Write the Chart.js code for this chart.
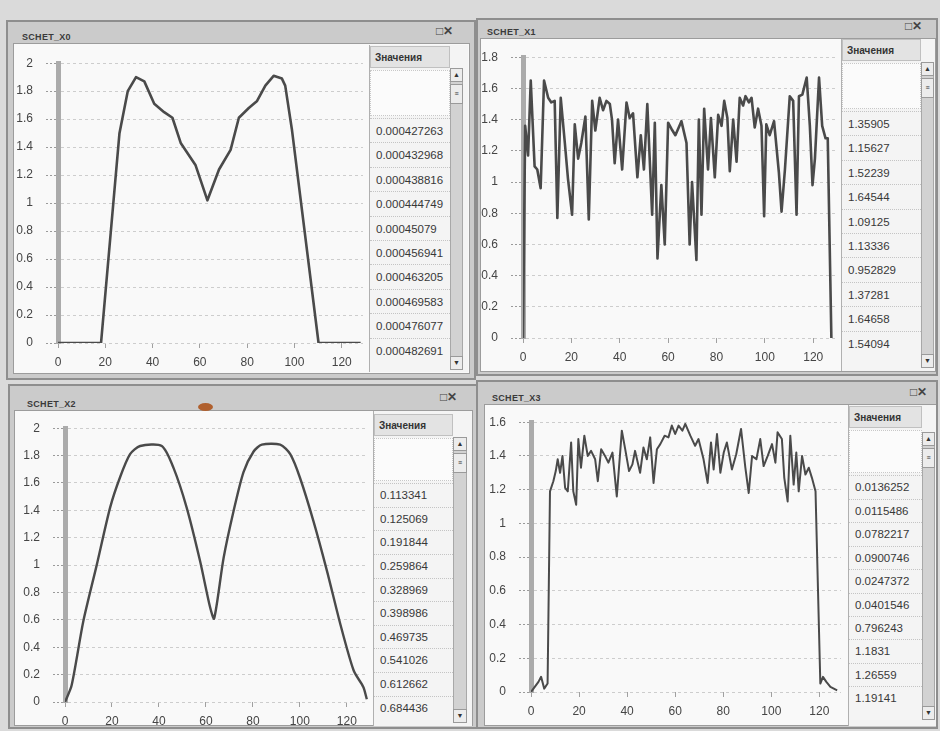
<!DOCTYPE html>
<html><head><meta charset="utf-8">
<script src="https://cdn.jsdelivr.net/npm/chart.js@4.4.1/dist/chart.umd.min.js"></script>
<style>
html,body{margin:0;padding:0;}
body{width:940px;height:731px;background:#dadada;position:relative;overflow:hidden;font-family:"Liberation Sans",Arial,sans-serif;}
.win{position:absolute;background:#cbcbcb;border:2px solid #8e8e8e;box-sizing:border-box;}
.title{position:absolute;font-size:9px;font-weight:bold;color:#3a3a3a;letter-spacing:0.3px;}
.icons{position:absolute;font-size:12px;color:#444;font-weight:bold;}
.content{position:absolute;background:#f9f9f9;border:1px solid #9c9c9c;box-sizing:border-box;}
.tbl{position:absolute;background:#f4f4f4;border-left:1px solid #b0b0b0;box-sizing:border-box;}
.hdr{position:absolute;height:22px;line-height:22px;font-size:10px;font-weight:bold;color:#333;padding-left:4px;background:#e3e3e3;border:1px solid #c0c0c0;box-sizing:border-box;}
.blank{position:absolute;background:#fbfbfb;border:1px dotted #c8c8c8;box-sizing:border-box;}
.row{position:absolute;font-size:11.5px;color:#383838;padding-left:6px;border-top:1px dotted #c4c4c4;box-sizing:border-box;white-space:nowrap;}
.sb{position:absolute;background:#d2d2d2;border:1px solid #a8a8a8;box-sizing:border-box;}
.sbb{position:absolute;left:0;right:0;height:14px;background:#ececec;border:1px solid #9a9a9a;box-sizing:border-box;font-size:7px;line-height:12px;text-align:center;color:#333;}
canvas{position:absolute;}
.blob{position:absolute;left:198px;top:403px;width:15px;height:8px;border-radius:50%;background:#b0602e;}
</style></head><body>
<script>
// ---------- DATA ----------
const xTickLabels = [0, 20, 40, 60, 80, 100, 120];

const x0Pos = [0, 18.2, 26, 29.5, 33, 36.5, 40.7, 44.9, 48.4, 51.9, 58.2, 63.2, 68.1, 73, 76.5, 80.7, 84.2, 87.7, 91.2, 94.7, 96.1, 98.9, 110.2, 128];
const x0Val = [0, 0, 1.50, 1.80, 1.90, 1.87, 1.71, 1.65, 1.61, 1.43, 1.27, 1.02, 1.24, 1.38, 1.61, 1.68, 1.73, 1.84, 1.91, 1.89, 1.84, 1.53, 0, 0];

const x1Pos = [0, 0.9, 2.1, 3.2, 4.8, 5.9, 7.3, 8.7, 10.4, 11.7, 13.1, 14.2, 15.6, 17.3, 18.6, 20.3, 21.4, 22.8, 24.1, 25.8, 27.2, 28.6, 29.9, 31.7, 33.1, 34.5, 35.9, 36.8, 37.9, 39.3, 41.0, 42.8, 44.1, 45.5, 47.3, 48.7, 50.0, 51.4, 53.4, 54.5, 55.6, 57.2, 58.6, 60.0, 61.4, 63.0, 65.5, 67.6, 68.9, 69.9, 71.7, 72.7, 73.8, 74.9, 76.5, 77.7, 79.3, 80.7, 82.1, 83.2, 84.5, 85.5, 86.9, 88.3, 89.6, 91.0, 92.0, 93.4, 94.5, 95.8, 97.2, 98.6, 99.7, 100.6, 102.0, 103.8, 105.8, 106.9, 108.3, 110.3, 111.7, 113.1, 114.1, 115.5, 117.3, 118.6, 119.7, 120.7, 122.4, 123.7, 125.1, 126.0, 127.5];
const x1Val = [0, 1.36, 1.17, 1.65, 1.10, 1.08, 0.96, 1.65, 1.54, 1.51, 1.52, 0.77, 1.54, 1.25, 1.02, 0.79, 1.37, 1.15, 1.25, 1.42, 0.76, 1.52, 1.33, 1.54, 1.46, 1.52, 1.50, 1.40, 1.12, 1.40, 1.08, 1.51, 1.41, 1.44, 1.03, 1.30, 1.08, 1.50, 0.79, 1.38, 0.51, 0.98, 0.60, 1.38, 1.34, 1.30, 1.39, 1.25, 0.60, 1.00, 0.50, 1.40, 0.79, 1.47, 1.08, 1.41, 1.03, 1.43, 1.36, 1.52, 1.41, 1.07, 1.40, 1.13, 1.54, 1.49, 1.55, 1.51, 1.54, 1.35, 1.47, 1.36, 0.78, 1.37, 1.30, 1.39, 1.06, 0.81, 1.08, 1.55, 1.52, 0.79, 1.55, 1.56, 1.67, 1.36, 0.98, 1.15, 1.67, 1.36, 1.28, 1.28, 0];

const x2Pos = [0, 2.8, 7.8, 13.5, 19.2, 23.4, 27.7, 32, 41.2, 46.2, 51.8, 57.5, 61.8, 63.5, 67.5, 71.7, 76, 80.3, 83.8, 91.6, 95.9, 100, 105.8, 111.5, 117.2, 122.9, 127, 128.5];
const x2Val = [0, 0.12, 0.59, 1.00, 1.42, 1.64, 1.81, 1.87, 1.87, 1.71, 1.42, 1.03, 0.69, 0.61, 1.05, 1.39, 1.68, 1.83, 1.88, 1.88, 1.81, 1.64, 1.32, 0.96, 0.57, 0.23, 0.11, 0.02];

const x3Pos = [0, 3.1, 4.2, 5.5, 6.9, 7.9, 9.3, 10.3, 11.1, 12.1, 13.1, 14.2, 15.3, 16.7, 17.6, 18.8, 19.7, 20.8, 22.2, 23.6, 25.0, 26.7, 27.8, 29.2, 30.8, 32.2, 33.9, 35.7, 37.8, 39.2, 40.8, 42.2, 43.3, 45.4, 46.8, 48.2, 49.6, 51.0, 52.4, 53.8, 55.6, 57.2, 58.6, 60.0, 61.4, 63.0, 64.2, 66.3, 68.3, 69.7, 71.8, 73.5, 74.9, 76.0, 77.4, 78.8, 80.2, 81.5, 83.6, 85.4, 87.4, 89.2, 90.6, 92.0, 93.8, 95.4, 96.8, 98.5, 100.3, 101.7, 102.6, 104.4, 105.4, 106.8, 107.9, 109.3, 110.4, 111.4, 112.8, 114.2, 115.6, 116.9, 118.4, 120.4, 121.5, 122.9, 124.6, 127.4];
const x3Val = [0, 0.06, 0.09, 0.02, 0.05, 1.19, 1.25, 1.31, 1.38, 1.30, 1.40, 1.21, 1.19, 1.48, 1.19, 1.11, 1.50, 1.33, 1.52, 1.40, 1.43, 1.38, 1.25, 1.44, 1.40, 1.36, 1.42, 1.16, 1.55, 1.44, 1.31, 1.35, 1.43, 1.30, 1.45, 1.38, 1.51, 1.24, 1.44, 1.47, 1.52, 1.51, 1.58, 1.53, 1.58, 1.55, 1.59, 1.52, 1.46, 1.50, 1.38, 1.24, 1.48, 1.32, 1.53, 1.30, 1.42, 1.48, 1.32, 1.41, 1.56, 1.33, 1.18, 1.40, 1.38, 1.50, 1.34, 1.40, 1.47, 1.36, 1.54, 1.50, 1.27, 1.13, 1.52, 1.23, 1.42, 1.19, 1.40, 1.29, 1.33, 1.27, 1.19, 0.05, 0.09, 0.06, 0.03, 0.01];

const tableX0 = ["0.000427263", "0.000432968", "0.000438816", "0.000444749", "0.00045079", "0.000456941", "0.000463205", "0.000469583", "0.000476077", "0.000482691"];
const tableX1 = ["1.35905", "1.15627", "1.52239", "1.64544", "1.09125", "1.13336", "0.952829", "1.37281", "1.64658", "1.54094"];
const tableX2 = ["0.113341", "0.125069", "0.191844", "0.259864", "0.328969", "0.398986", "0.469735", "0.541026", "0.612662", "0.684436"];
const tableX3 = ["0.0136252", "0.0115486", "0.0782217", "0.0900746", "0.0247372", "0.0401546", "0.796243", "1.1831", "1.26559", "1.19141"];

const titles = ["SCHET_X0", "SCHET_X1", "SCHET_X2", "SCHET_X3"];
const headerText = "Значения";
const yMaxes = [2, 1.8, 2, 1.6];

// ---------- LAYOUT ----------
const layouts = [
  {win:{x:6,y:20,w:470,h:360}, title:{x:22,y:32}, icons:{x:436,y:24}, content:{x:13,y:43,w:457,h:331},
   canvas:{x:13,y:43,w:356,h:331}, plot:{l:58,t:59,r:363,b:343}, lw:2.6, tension:0,
   table:{x:369,y:45,w:99,h:327,hdrTop:46,rowStart:118,rowH:24.4}, sb:{x:450,y:68,w:13,h:302}},
  {win:{x:476,y:18,w:462,h:358}, title:{x:487,y:27}, icons:{x:905,y:19}, content:{x:480,y:38,w:456,h:334},
   canvas:{x:480,y:37,w:360,h:334}, plot:{l:523,t:53,r:835,b:338}, lw:2.6, tension:0,
   table:{x:841,y:39,w:94,h:332,hdrTop:39,rowStart:111,rowH:24.4}, sb:{x:921,y:62,w:13,h:306}},
  {win:{x:8,y:384,w:470,h:345}, title:{x:27,y:399}, icons:{x:440,y:390}, content:{x:14,y:410,w:459,h:316},
   canvas:{x:14,y:408,w:359,h:318}, plot:{l:65,t:427,r:368,b:702}, lw:2.4, tension:0.25,
   table:{x:373,y:411,w:99,h:315,hdrTop:414,rowStart:483.2,rowH:23.6}, sb:{x:453,y:437,w:14,h:286}},
  {win:{x:476,y:380,w:462,h:349}, title:{x:492,y:393}, icons:{x:910,y:385}, content:{x:484,y:404,w:452,h:322},
   canvas:{x:484,y:402,w:364,h:324}, plot:{l:531,t:420,r:841,b:692}, lw:2.0, tension:0,
   table:{x:848,y:405,w:88,h:321,hdrTop:406,rowStart:475.3,rowH:23.45}, sb:{x:922,y:432,w:13,h:288}}
];

const series = [[x0Pos, x0Val], [x1Pos, x1Val], [x2Pos, x2Val], [x3Pos, x3Val]];
const tables = [tableX0, tableX1, tableX2, tableX3];

function el(cls, css, html) {
  const d = document.createElement('div');
  d.className = cls;
  Object.assign(d.style, css);
  if (html !== undefined) d.innerHTML = html;
  document.body.appendChild(d);
  return d;
}
const px = v => v + 'px';

layouts.forEach((L, i) => {
  el('win', {left:px(L.win.x), top:px(L.win.y), width:px(L.win.w), height:px(L.win.h)});
  el('title', {left:px(L.title.x), top:px(L.title.y)}, titles[i]);
  el('icons', {left:px(L.icons.x), top:px(L.icons.y)}, '&#9633;&#x2715;');
  el('content', {left:px(L.content.x), top:px(L.content.y), width:px(L.content.w), height:px(L.content.h)});
  const T = L.table;
  el('tbl', {left:px(T.x), top:px(T.y), width:px(T.w), height:px(T.h)});
  const rw = L.sb.x - T.x - 1;
  el('hdr', {left:px(T.x + 1), top:px(T.hdrTop), width:px(rw)}, headerText);
  el('blank', {left:px(T.x + 1), top:px(T.hdrTop + 24), width:px(rw), height:px(T.rowStart - T.hdrTop - 26)});
  tables[i].forEach((v, k) => {
    el('row', {left:px(T.x + 1), top:px(T.rowStart + k * T.rowH), width:px(rw), height:px(T.rowH), lineHeight:px(T.rowH)}, v);
  });
  const S = L.sb;
  el('sb', {left:px(S.x), top:px(S.y), width:px(S.w), height:px(S.h)});
  el('sbb', {left:px(S.x), top:px(S.y), width:px(S.w)}, '&#9650;');
  el('sbb', {left:px(S.x), top:px(S.y + 16), width:px(S.w), height:px(20), lineHeight:'18px'}, '&#8801;');
  el('sbb', {left:px(S.x), top:px(S.y + S.h - 14), width:px(S.w)}, '&#9660;');

  const C = L.canvas, P = L.plot;
  const cv = document.createElement('canvas');
  cv.width = C.w; cv.height = C.h;
  cv.style.left = px(C.x); cv.style.top = px(C.y);
  cv.style.width = px(C.w); cv.style.height = px(C.h);
  document.body.appendChild(cv);

  const [xs, ys] = series[i];
  const pts = xs.map((x, k) => ({x: x, y: ys[k]}));
  const yW = P.l - C.x, xH = C.y + C.h - P.b;
  new Chart(cv, {
    type: 'line',
    data: {datasets: [{data: pts, borderColor: '#4a4a4a', borderWidth: L.lw, pointRadius: 0, tension: L.tension, fill: false, borderJoinStyle: 'round'}]},
    options: {
      responsive: false, animation: false, events: [], devicePixelRatio: 1,
      layout: {padding: {left: 0, top: P.t - C.y, right: C.x + C.w - P.r, bottom: 0}},
      plugins: {legend: {display: false}, tooltip: {enabled: false}},
      scales: {
        x: {
          type: 'linear', min: 0, max: 129,
          afterFit(s) { s.height = xH; },
          ticks: {stepSize: 20, includeBounds: false, autoSkip: false, maxRotation: 0, padding: 7, color: '#454545',
                  font: {size: 12, family: '"Liberation Sans", Arial, sans-serif'},
                  callback: v => xTickLabels.includes(v) ? String(v) : ''},
          grid: {drawOnChartArea: false, drawTicks: true, tickLength: 5, tickColor: '#a0a0a0'},
          border: {display: false}
        },
        y: {
          type: 'linear', min: 0, max: yMaxes[i],
          afterFit(s) { s.width = yW; },
          ticks: {stepSize: 0.2, padding: 13, color: '#454545',
                  font: {size: 12, family: '"Liberation Sans", Arial, sans-serif'},
                  callback: v => String(Math.round(v * 10) / 10)},
          grid: {color: '#cdcdcd', lineWidth: 1, tickLength: 12, tickColor: '#9a9a9a', tickBorderDash: [2, 2]},
          border: {display: true, color: '#ababab', width: 5, dash: [3, 3]}
        }
      }
    }
  });
});
el('blob', {});
</script>
</body></html>
